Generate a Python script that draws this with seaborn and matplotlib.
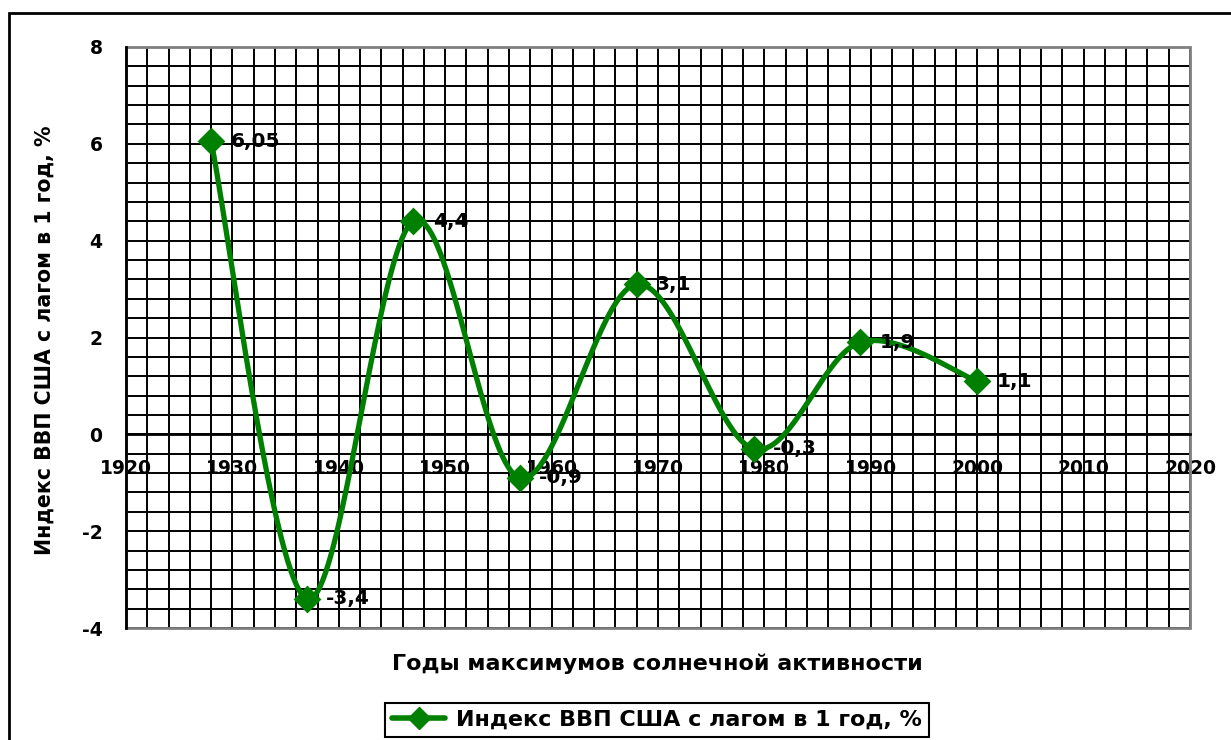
import numpy as np
import matplotlib
matplotlib.use("Agg")
import matplotlib.pyplot as plt
from matplotlib.lines import Line2D
from matplotlib.patches import Rectangle
import seaborn as sns

# data
years = [1928, 1937, 1947, 1957, 1968, 1979, 1989, 2000]
gdp_index = [6.05, -3.4, 4.4, -0.9, 3.1, -0.3, 1.9, 1.1]
point_labels = ["6,05", "-3,4", "4,4", "-0,9", "3,1", "-0,3", "1,9", "1,1"]
x_major = list(range(1920, 2021, 10))
y_major = [-4, -2, 0, 2, 4, 6, 8]

SERIES = "Индекс ВВП США с лагом в 1 год, %"
XLABEL = "Годы максимумов солнечной активности"

GREEN = "#008000"
BORDER = "#808080"

sns.set_style("white")
plt.rcParams.update({
    "font.family": ["DejaVu Sans"],
    "font.weight": "bold",
    "text.color": "black",
    "xtick.color": "black",
    "ytick.color": "black",
    "axes.unicode_minus": False,
})


def excel_smooth(xs, ys, sx, sy, n=40):
    # Excel "smoothed line": Bezier segments, tangents (P[i+1]-P[i-1])/6
    p = np.column_stack([np.asarray(xs, float) * sx, np.asarray(ys, float) * sy])
    ext = np.vstack([p[0], p, p[-1]])
    t = np.linspace(0, 1, n)[1:, None]
    out = [p[:1]]
    for i in range(len(p) - 1):
        p0, p1 = ext[i + 1], ext[i + 2]
        c1 = p0 + (ext[i + 2] - ext[i]) / 6
        c2 = p1 - (ext[i + 3] - ext[i + 1]) / 6
        out.append((1 - t) ** 3 * p0 + 3 * (1 - t) ** 2 * t * c1
                   + 3 * (1 - t) * t ** 2 * c2 + t ** 3 * p1)
    out = np.vstack(out)
    return out[:, 0] / sx, out[:, 1] / sy


W, H = 1231, 740
fig = plt.figure(figsize=(W / 100, H / 100), dpi=100, facecolor="white")
L, R, T, B = 126, 1190, 47, 628
ax = fig.add_axes([L / W, 1 - B / H, (R - L) / W, (B - T) / H])

ax.set_xlim(1920, 2020)
ax.set_ylim(-4, 8)

# grid: every 2 years / every 0.4
ax.set_xticks(x_major)
ax.set_xticks(np.arange(1920, 2021, 2), minor=True)
ax.set_yticks(y_major)
ax.set_yticks(np.linspace(-4, 8, 31), minor=True)
ax.grid(which="both", color="black", lw=1.4)
ax.set_axisbelow(True)

# smoothed curve + markers
cx, cy = excel_smooth(years, gdp_index, sx=(R - L) / 100, sy=(B - T) / 12)
sns.lineplot(x=cx, y=cy, sort=False, estimator=None, color=GREEN, lw=3.8,
             ax=ax, zorder=4)
sns.scatterplot(x=years, y=gdp_index, marker="D", s=200, color=GREEN,
                edgecolor=GREEN, linewidth=0, ax=ax, zorder=5)

for xv, yv, lab in zip(years, gdp_index, point_labels):
    ax.annotate(lab, (xv, yv), xytext=(14, 0), textcoords="offset points",
                ha="left", va="center", fontsize=14.5, fontweight="bold", zorder=6)

# axes: x axis crosses at 0
for s in ["top", "right"]:
    ax.spines[s].set_visible(False)
ax.spines["bottom"].set_position(("data", 0))
ax.spines["bottom"].set_color("black")
ax.spines["bottom"].set_linewidth(2)
ax.spines["left"].set_color("black")
ax.spines["left"].set_linewidth(2)
ax.spines["left"].set_zorder(3)
ax.add_patch(Rectangle((0, 0), 1, 1, transform=ax.transAxes, fill=False,
                       edgecolor=BORDER, lw=2, clip_on=False, zorder=2.5))

ax.tick_params(axis="x", which="major", direction="out", length=4, width=2,
               pad=14, labelsize=13.5)
ax.tick_params(axis="y", which="major", direction="out", length=7, width=1.4,
               pad=10, labelsize=13.5)
ax.tick_params(which="minor", length=0)
for lbl in ax.get_xticklabels() + ax.get_yticklabels():
    lbl.set_fontweight("bold")
ax.set_xlabel("")
ax.set_ylabel("")

fig.text(45 / W, 1 - 340 / H, SERIES, rotation=90, ha="center", va="center",
         fontsize=14.8, fontweight="bold")
fig.text(657 / W, 1 - 664 / H, XLABEL, ha="center", va="center",
         fontsize=16, fontweight="bold")

handle = Line2D([], [], color=GREEN, lw=4, marker="D", ms=11)
leg = fig.legend([handle], [SERIES], loc="center",
                 bbox_to_anchor=(657 / W, 1 - 720 / H), fancybox=False,
                 edgecolor="black", framealpha=1, handlelength=2.4,
                 borderpad=0.3, handletextpad=0.5,
                 prop={"size": 16, "weight": "bold"})
leg.get_frame().set_linewidth(1.5)

# chart-area border
fig.patches.append(Rectangle((9 / W, -0.1), 1.2, (1 - 13 / H) + 0.1,
                             transform=fig.transFigure, fill=False,
                             edgecolor="black", lw=2))

fig.savefig("out.png", dpi=100, facecolor="white")
